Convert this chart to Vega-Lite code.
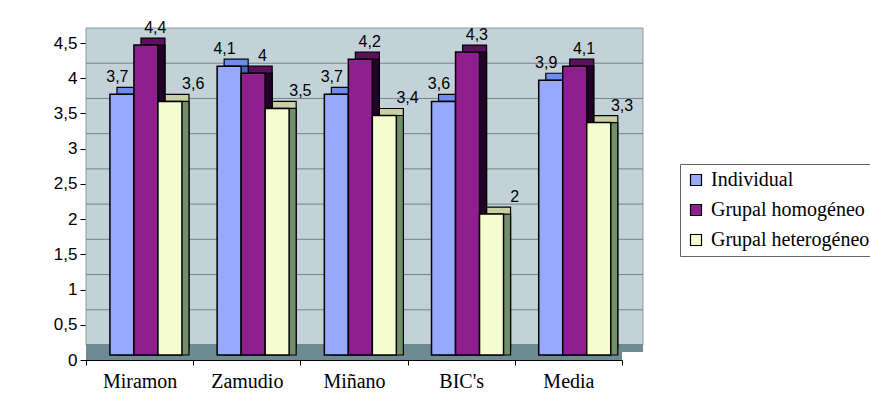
{
  "$schema": "https://vega.github.io/schema/vega-lite/v6.json",
  "width": 536,
  "height": 317,
  "autosize": "none",
  "padding": {"left": 86, "top": 43, "right": 248, "bottom": 53},
  "background": "white",
  "config": {
    "locale": {"number": {"decimal": ",", "thousands": ".", "grouping": [3], "currency": ["", " €"]}},
    "view": {"fill": "#CAD8DE", "stroke": null},
    "axis": {"domainColor": "black", "tickColor": "black", "labelColor": "black", "grid": false, "title": null},
    "axisX": {"labelFont": "Liberation Serif", "labelFontSize": 20, "labelAngle": 0, "tickSize": 5, "labelPadding": 6, "tickBand": "extent"},
    "axisY": {"labelFont": "Liberation Sans", "labelFontSize": 17, "tickSize": 6, "labelPadding": 3, "tickCount": 10, "format": ".1~f"},
    "legend": {
      "orient": "none", "legendX": 594, "legendY": 121, "title": null,
      "labelFont": "Liberation Serif", "labelFontSize": 20, "labelColor": "black",
      "symbolType": "square", "symbolSize": 121, "symbolStrokeColor": "black", "symbolStrokeWidth": 1.2,
      "labelOffset": 5, "rowPadding": 10, "padding": 6,
      "strokeColor": "#666666", "fillColor": "white"
    }
  },
  "data": {
    "values": [
      {"centro": "Miramon", "grupo": "Individual", "valor": 3.7},
      {"centro": "Miramon", "grupo": "Grupal homogéneo", "valor": 4.4},
      {"centro": "Miramon", "grupo": "Grupal heterogéneo", "valor": 3.6},
      {"centro": "Zamudio", "grupo": "Individual", "valor": 4.1},
      {"centro": "Zamudio", "grupo": "Grupal homogéneo", "valor": 4.0},
      {"centro": "Zamudio", "grupo": "Grupal heterogéneo", "valor": 3.5},
      {"centro": "Miñano", "grupo": "Individual", "valor": 3.7},
      {"centro": "Miñano", "grupo": "Grupal homogéneo", "valor": 4.2},
      {"centro": "Miñano", "grupo": "Grupal heterogéneo", "valor": 3.4},
      {"centro": "BIC's", "grupo": "Individual", "valor": 3.6},
      {"centro": "BIC's", "grupo": "Grupal homogéneo", "valor": 4.3},
      {"centro": "BIC's", "grupo": "Grupal heterogéneo", "valor": 2.0},
      {"centro": "Media", "grupo": "Individual", "valor": 3.9},
      {"centro": "Media", "grupo": "Grupal homogéneo", "valor": 4.1},
      {"centro": "Media", "grupo": "Grupal heterogéneo", "valor": 3.3}
    ]
  },
  "layer": [
    {
      "data": {"values": [{"pared": "fondo"}]},
      "mark": {"type": "rect", "fill": "#C3D2D8", "stroke": "#8A9BA2", "strokeWidth": 1, "xOffset": 21, "x2Offset": 21, "yOffset": -15, "y2Offset": -15},
      "encoding": {
        "y": {"datum": 0, "type": "quantitative", "scale": {"domain": [0, 4.5], "nice": false}, "title": null},
        "y2": {"datum": 4.5}
      }
    },
    {
      "data": {"values": [{"v": 0.5}, {"v": 1}, {"v": 1.5}, {"v": 2}, {"v": 2.5}, {"v": 3}, {"v": 3.5}, {"v": 4}]},
      "mark": {"type": "rule", "color": "#72838A", "strokeWidth": 1, "xOffset": 21, "x2Offset": 21, "yOffset": -15},
      "encoding": {
        "y": {"field": "v", "type": "quantitative", "scale": {"domain": [0, 4.5], "nice": false}, "title": null}
      }
    },
    {
      "data": {"values": [{"pared": "suelo-fondo"}]},
      "mark": {"type": "rect", "fill": "#6E8A92", "xOffset": 21, "x2Offset": 21, "yOffset": -8, "y2Offset": -16},
      "encoding": {
        "y": {"datum": 0, "type": "quantitative", "scale": {"domain": [0, 4.5], "nice": false}, "title": null},
        "y2": {"datum": 0}
      }
    },
    {
      "data": {"values": [{"pared": "suelo"}]},
      "mark": {"type": "rect", "fill": "#6E8A92", "yOffset": 0, "y2Offset": -16},
      "encoding": {
        "y": {"datum": 0, "type": "quantitative", "scale": {"domain": [0, 4.5], "nice": false}, "title": null},
        "y2": {"datum": 0}
      }
    },
    {
      "mark": {"type": "bar", "stroke": "black", "strokeWidth": 1.2, "yOffset": -12, "y2Offset": -12},
      "encoding": {
        "x": {"field": "centro", "type": "nominal", "sort": ["Miramon", "Zamudio", "Miñano", "BIC's", "Media"], "scale": {"paddingInner": 0, "paddingOuter": 0}, "title": null},
        "xOffset": {"field": "grupo", "sort": ["Individual", "Grupal homogéneo", "Grupal heterogéneo"], "scale": {"paddingInner": 0, "paddingOuter": 0.733, "align": 0.88}},
        "y": {"field": "valor", "type": "quantitative", "scale": {"domain": [0, 4.5], "nice": false}, "title": null},
        "color": {"field": "grupo", "sort": ["Individual", "Grupal homogéneo", "Grupal heterogéneo"], "scale": {"domain": ["Individual", "Grupal homogéneo", "Grupal heterogéneo"], "range": ["#6E8BF0", "#5C1060", "#C8D0A4"]}, "legend": null}
      }
    },
    {
      "mark": {"type": "bar", "stroke": "black", "strokeWidth": 1.2, "yOffset": -5, "y2Offset": -10},
      "encoding": {
        "x": {"field": "centro", "type": "nominal", "sort": ["Miramon", "Zamudio", "Miñano", "BIC's", "Media"], "scale": {"paddingInner": 0, "paddingOuter": 0}, "title": null},
        "xOffset": {"field": "grupo", "sort": ["Individual", "Grupal homogéneo", "Grupal heterogéneo"], "scale": {"paddingInner": 0, "paddingOuter": 0.733, "align": 0.88}},
        "y": {"field": "valor", "type": "quantitative", "scale": {"domain": [0, 4.5], "nice": false}, "title": null},
        "color": {"field": "grupo", "sort": ["Individual", "Grupal homogéneo", "Grupal heterogéneo"], "scale": {"domain": ["Individual", "Grupal homogéneo", "Grupal heterogéneo"], "range": ["#4E62C4", "#22002A", "#71906A"]}, "legend": null}
      }
    },
    {
      "mark": {"type": "bar", "stroke": "black", "strokeWidth": 1.5, "yOffset": -5, "y2Offset": -5},
      "encoding": {
        "x": {"field": "centro", "type": "nominal", "sort": ["Miramon", "Zamudio", "Miñano", "BIC's", "Media"], "scale": {"paddingInner": 0, "paddingOuter": 0}, "title": null},
        "xOffset": {"field": "grupo", "sort": ["Individual", "Grupal homogéneo", "Grupal heterogéneo"], "scale": {"paddingInner": 0, "paddingOuter": 0.733, "align": 0.68}},
        "y": {"field": "valor", "type": "quantitative", "scale": {"domain": [0, 4.5], "nice": false}, "title": null},
        "color": {"field": "grupo", "sort": ["Individual", "Grupal homogéneo", "Grupal heterogéneo"], "scale": {"domain": ["Individual", "Grupal homogéneo", "Grupal heterogéneo"], "range": ["#99A8FF", "#8F1F8F", "#F5FCD0"]}}
      }
    },
    {
      "mark": {"type": "text", "font": "Liberation Sans", "fontSize": 16, "color": "black", "baseline": "alphabetic", "align": "center", "dy": -17},
      "encoding": {
        "x": {"field": "centro", "type": "nominal", "sort": ["Miramon", "Zamudio", "Miñano", "BIC's", "Media"], "scale": {"paddingInner": 0, "paddingOuter": 0}, "title": null},
        "xOffset": {"field": "grupo", "sort": ["Individual", "Grupal homogéneo", "Grupal heterogéneo"], "scale": {"paddingInner": 0, "paddingOuter": 0.414, "align": 1}},
        "y": {"field": "valor", "type": "quantitative", "scale": {"domain": [0, 4.5], "nice": false}, "title": null},
        "text": {"field": "valor", "type": "quantitative", "format": ".1~f"}
      }
    }
  ],
  "resolve": {"scale": {"xOffset": "independent", "color": "independent"}, "legend": {"color": "independent"}}
}
